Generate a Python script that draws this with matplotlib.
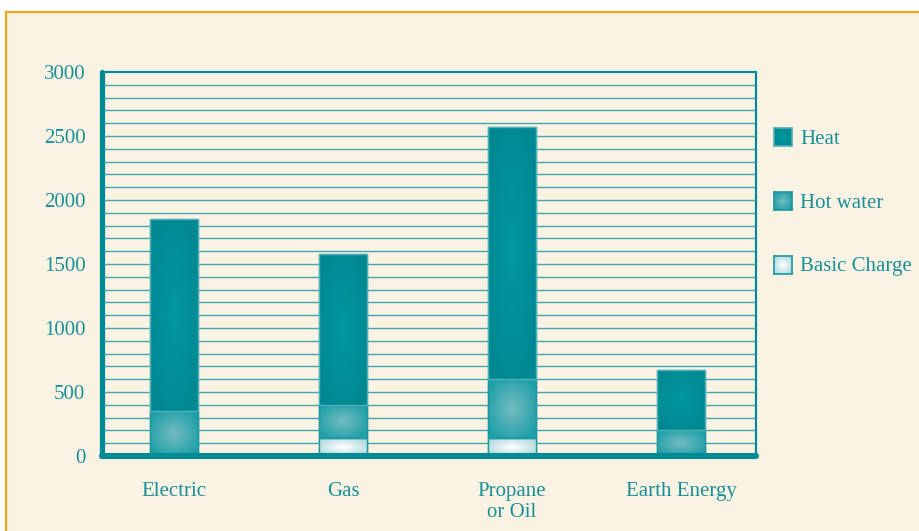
import numpy as np
import matplotlib
matplotlib.use("Agg")
import matplotlib.pyplot as plt
from matplotlib.patches import Rectangle
from matplotlib.colors import LinearSegmentedColormap

categories = ["Electric", "Gas", "Propane\nor Oil", "Earth Energy"]
basic_charge = [0, 140, 140, 0]
hot_water = [350, 260, 460, 200]
heat = [1500, 1180, 1970, 470]
series_names = ["Heat", "Hot water", "Basic Charge"]
yticks = [0, 500, 1000, 1500, 2000, 2500, 3000]

TEAL = "#008B95"
TEXT = "#1A8F98"
CREAM = "#FAF3E4"
ORANGE = "#EFA71E"
FONT = ["Liberation Serif", "DejaVu Serif"]
FS = 15

styles = {
    "Heat": ("#0097A1", "#008892", "#4FB1B8"),
    "Hot water": ("#74BCC0", "#1F9FA8", "#1A98A1"),
    "Basic Charge": ("#FFFFFF", "#B2D9DE", "#1A98A1"),
}

W, H = 920, 531
fig = plt.figure(figsize=(W / 100, H / 100), dpi=100, facecolor="white")

# background panel with orange border
bg = Rectangle((6 / W, 0 - 0.02), 1.0, (H - 12) / H + 0.02, transform=fig.transFigure,
               facecolor=CREAM, edgecolor=ORANGE, linewidth=1.6, zorder=-10)
fig.patches.append(bg)


def radial(center, edge, n=64):
    cmap = LinearSegmentedColormap.from_list("g", [center, edge])
    yy, xx = np.mgrid[-1:1:n * 1j, -1:1:n * 1j]
    r = np.clip(np.sqrt(xx ** 2 + yy ** 2) / 1.2, 0, 1)
    return cmap(r)


ax = fig.add_axes([102 / W, (H - 456) / H, (756 - 102) / W, (456 - 72) / H])
ax.set_facecolor("none")
x = np.arange(len(categories))
width = 0.284

for v in range(100, 3000, 100):
    ax.axhline(v, color="#3FA6AD", linewidth=1.0, zorder=1)

bottoms = np.zeros(len(categories))
for name, vals in [("Basic Charge", basic_charge), ("Hot water", hot_water), ("Heat", heat)]:
    c_center, c_edge, c_line = styles[name]
    bars = ax.bar(x, vals, width, bottom=bottoms, color=c_edge, edgecolor=c_line,
                  linewidth=1.0, zorder=2)
    img = radial(c_center, c_edge)
    for b, v in zip(bars, vals):
        if v <= 0:
            continue
        x0, y0 = b.get_x(), b.get_y()
        im = ax.imshow(img, extent=(x0, x0 + b.get_width(), y0, y0 + b.get_height()),
                       aspect="auto", zorder=3, interpolation="bilinear")
        im.set_clip_path(b)
        b2 = Rectangle((x0, y0), b.get_width(), b.get_height(), facecolor="none",
                       edgecolor=c_line, linewidth=1.0, zorder=4)
        ax.add_patch(b2)
    bottoms += np.array(vals)

ax.set_xlim(-0.426, 3.444)
ax.set_ylim(0, 3000)

for side, lw in [("left", 3.8), ("bottom", 4.4), ("top", 1.6), ("right", 1.6)]:
    ax.spines[side].set_color(TEAL)
    ax.spines[side].set_linewidth(lw)
    ax.spines[side].set_capstyle("round")
    ax.spines[side].set_zorder(5)

ax.set_yticks(yticks)
ax.set_yticklabels([str(t) for t in yticks], fontfamily=FONT, fontsize=FS, color=TEXT)
ax.set_xticks(x)
ax.set_xticklabels(categories, fontfamily=FONT, fontsize=FS, color=TEXT, linespacing=1.15)
ax.tick_params(axis="y", length=0, pad=12)
ax.tick_params(axis="x", length=0, pad=19)

# legend
leg_y = [128, 192, 256]
for name, yy in zip(series_names, leg_y):
    c_center, c_edge, c_line = styles[name]
    sax = fig.add_axes([774 / W, (H - yy - 18) / H, 18 / W, 18 / H])
    sax.imshow(radial(c_center, c_edge), extent=(0, 1, 0, 1), aspect="auto",
               interpolation="bilinear")
    sax.set_xticks([]); sax.set_yticks([])
    for s in sax.spines.values():
        s.set_color(c_line if name != "Heat" else "#4FB1B8")
        s.set_linewidth(1.2)
    fig.text(800 / W, (H - yy - 11) / H, name, fontfamily=FONT, fontsize=FS,
             color=TEXT, va="center", ha="left")

fig.savefig("out.png", dpi=100, facecolor="white")
